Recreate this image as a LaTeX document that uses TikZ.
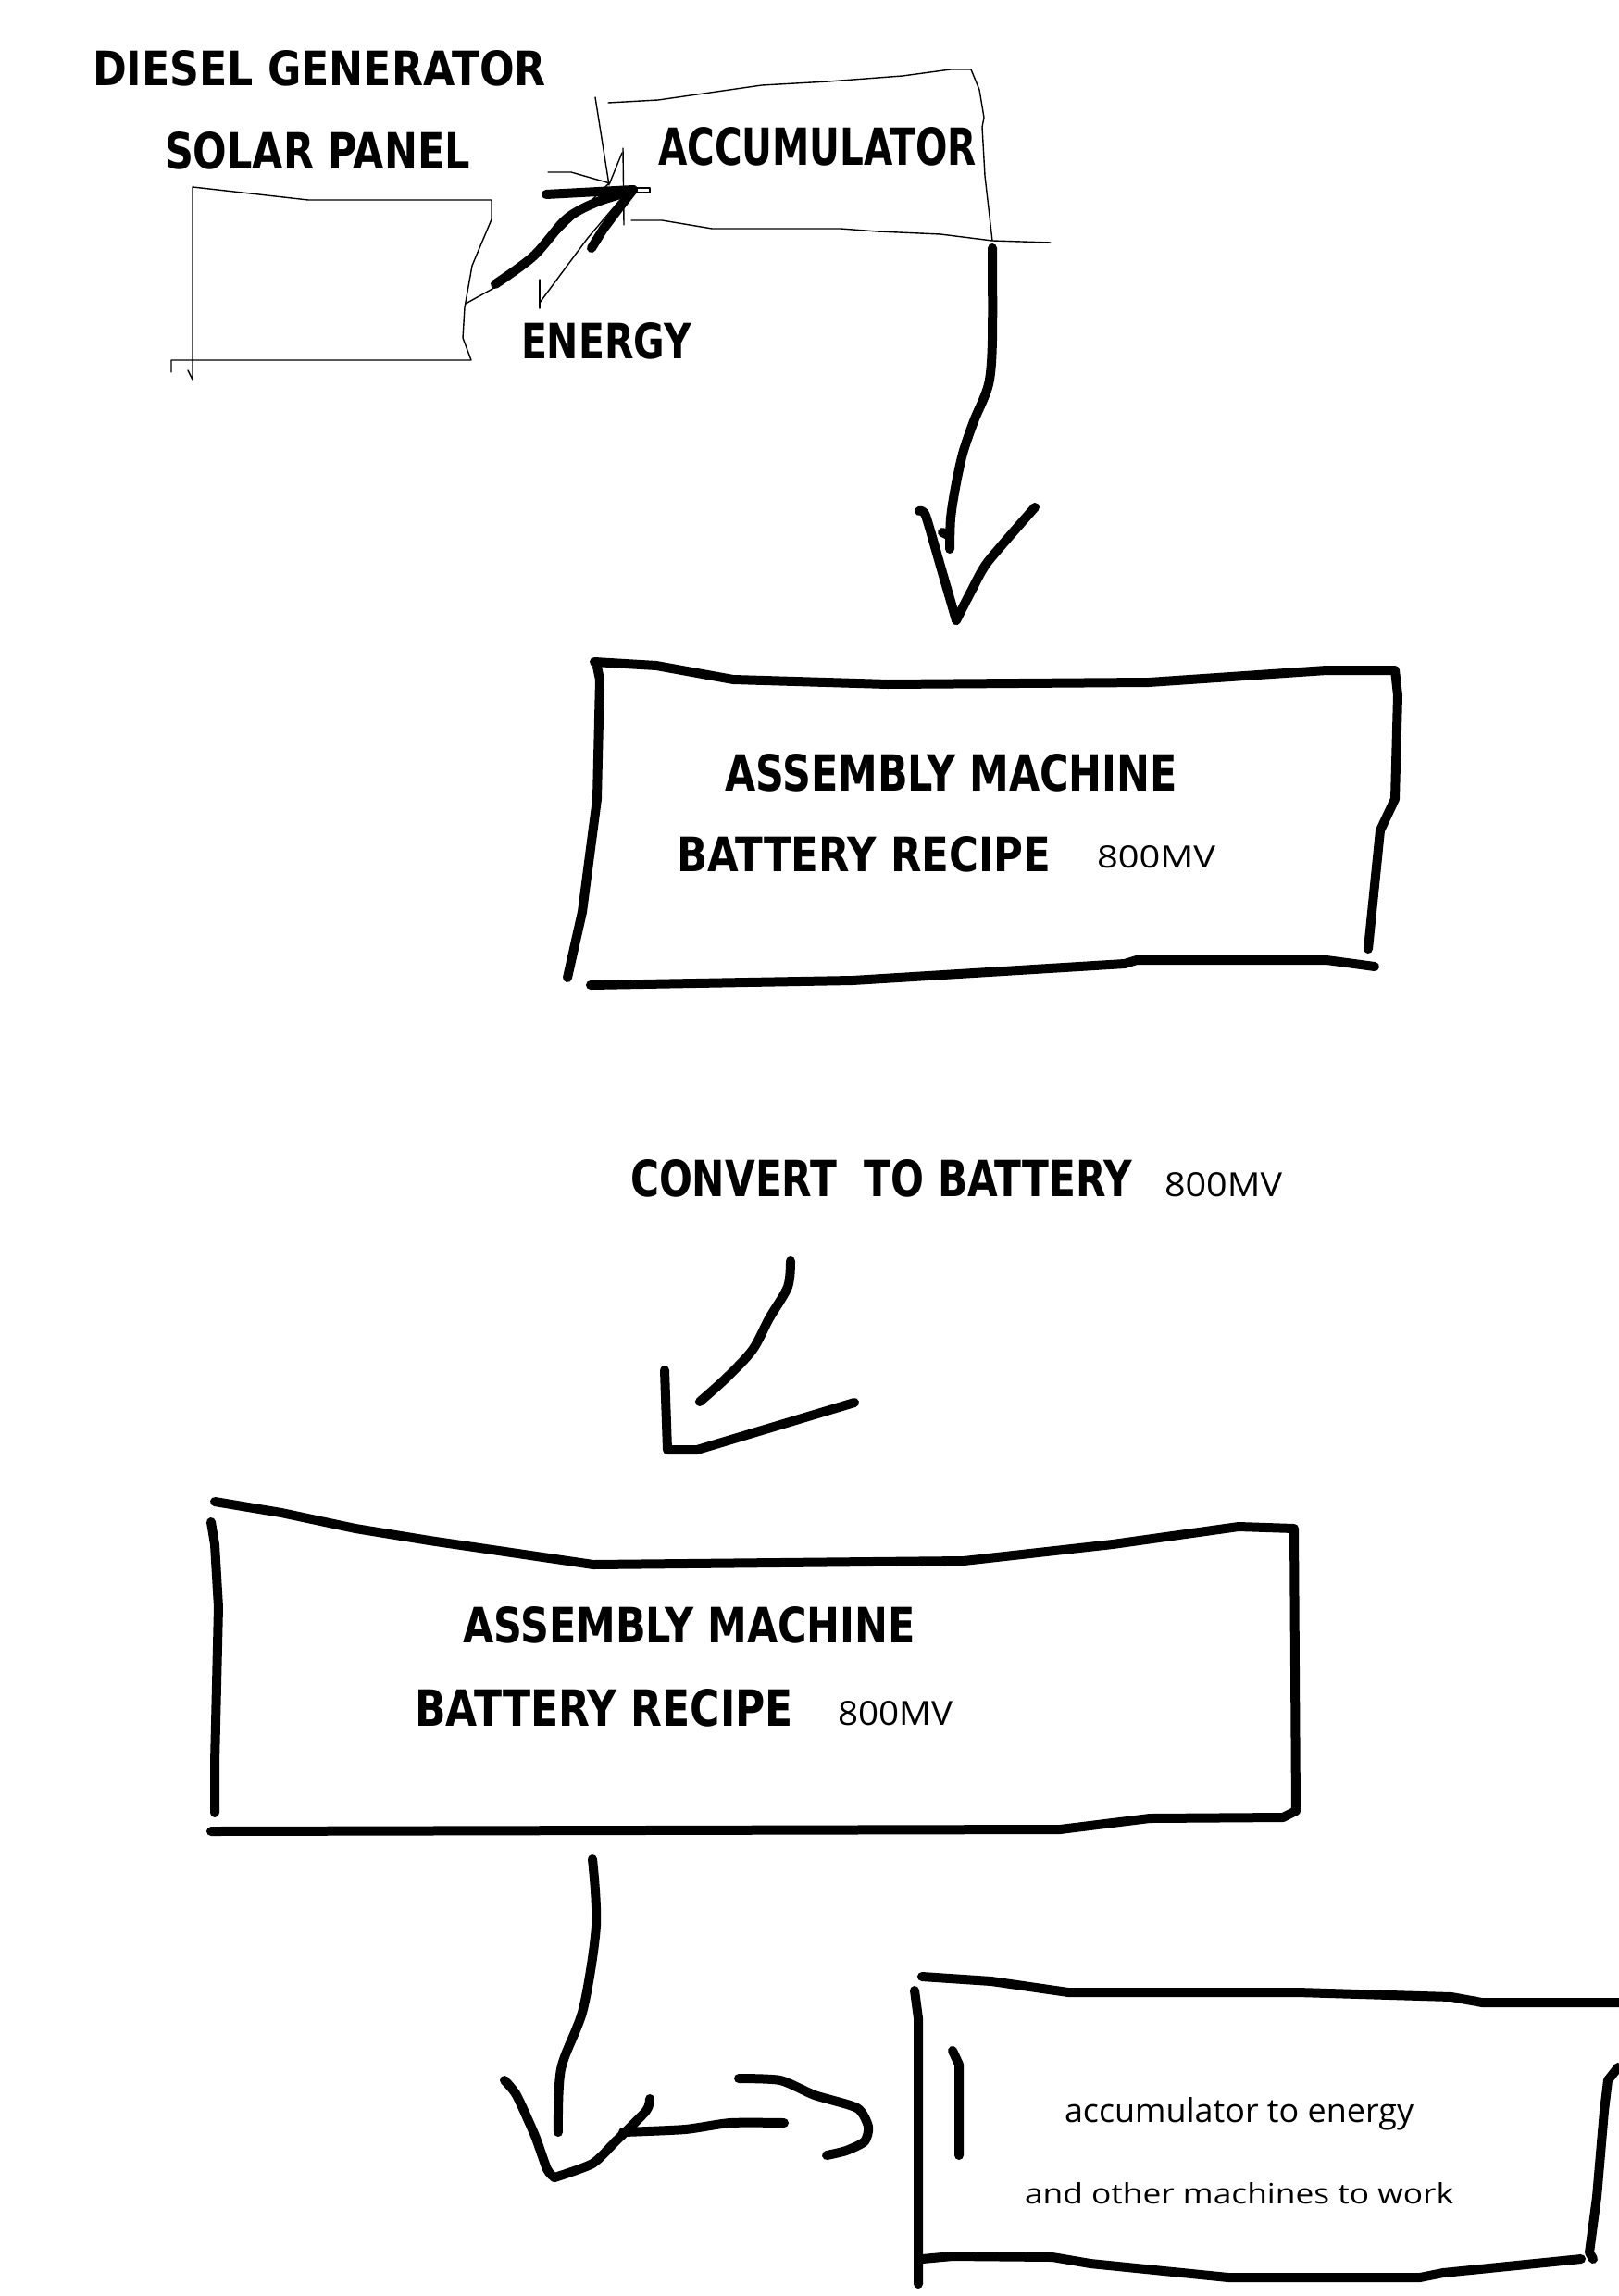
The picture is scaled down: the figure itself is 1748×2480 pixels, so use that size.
\documentclass[tikz,border=0pt]{standalone}
\usepackage{fontspec}
\usepackage{graphicx}
\newfontfamily\decofont{DejaVu Sans}
\newfontfamily\thinfont{Open Sans}
\newcommand\dtext[3]{\resizebox{#1pt}{#2pt}{\decofont\bfseries #3}}
\newcommand\ttext[3]{\resizebox{#1pt}{#2pt}{\thinfont #3}}
\tikzset{
  thickstroke/.style={line width=10pt, line cap=round, line join=round},
  thinstroke/.style={line width=1.4pt, line cap=round, line join=round},
  lbl/.style={inner sep=0pt, outer sep=0pt, anchor=base west}
}
\begin{document}
\begin{tikzpicture}[x=1pt, y=-1pt]
\fill[white] (0,0) rectangle (1748,2480);
\useasboundingbox (0,0) rectangle (1748,2480);

% ---------- top: texts ----------
\node[lbl] (diesel) at (100,93) {\dtext{490}{38}{DIESEL GENERATOR}};
\node[lbl] (solar) at (178,183) {\dtext{330}{40}{SOLAR PANEL}};
\node[lbl] (accu) at (711,179) {\dtext{344}{41}{ACCUMULATOR}};
\node[lbl] (energy) at (563,387) {\dtext{184}{39}{ENERGY}};

% solar panel box (thin)
\draw[thinstroke] (185,402) -- (185,389) -- (509,389) -- (500,365) -- (502,332)
  -- (510,287) -- (531,237) -- (531,216) -- (333,216) -- (208,202) -- (208,410) -- (203,400);

% accumulator box (thin)
\draw[thinstroke] (643,105) -- (658,200);
\draw[thinstroke] (657,111) -- (711,108) -- (823,92) -- (895,88) -- (975,82) -- (1027,75) -- (1049,75)
  -- (1058,97) -- (1063,127) -- (1061,137) -- (1064,190) -- (1072,260);
\draw[thinstroke] (682,238) -- (715,238) -- (769,247) -- (908,247) -- (948,250) -- (1016,253)
  -- (1072,260) -- (1135,262);

% thin scribbles near the energy arrow
\draw[thinstroke] (592,186) -- (617,186) -- (659,198);
\draw[thinstroke] (673,160) -- (674,243);
\draw[thinstroke] (503,328) -- (532,312) -- (600,255) -- (659,197) -- (672,165);
\draw[thinstroke] (583,302) -- (583,333);
\draw[thinstroke] (583,327) -- (603,300) -- (635,257) -- (652,237) -- (669,217);
\draw[thinstroke] (684,203) -- (702,203) -- (702,208) -- (686,208);

% energy arrow (thick)
\coordinate (enStart) at (535,307);
\coordinate (enTip) at (684,205);
\draw[thickstroke] plot[smooth, tension=0.5] coordinates {(enStart) (576,277) (608,240) (626,227) (648,217) (670,210) (enTip)};
\draw[thickstroke] (590,210) -- (enTip) -- (670,223) -- (652,247) -- (639,268);

% ---------- arrow accumulator -> box 1 ----------
\coordinate (a1s) at (1072,268);
\coordinate (a1t) at (1033,670);
\draw[thickstroke] plot[smooth, tension=0.5] coordinates {(a1s) (1072,367) (1068,415) (1052,455) (1040,490) (1032,527) (1027,560) (1026,593)};
\draw[thickstroke] (1018,575) -- (1024,578);
\draw[thickstroke] plot[smooth, tension=0.4] coordinates {(993,552) (1000,557) (1017,615) (a1t)};
\draw[thickstroke] plot[smooth, tension=0.4] coordinates {(a1t) (1050,637) (1067,607) (1118,548)};

% ---------- box 1 ----------
\draw[thickstroke] (642,715) -- (709,719) -- (792,734) -- (959,739) -- (1241,737) -- (1433,724) -- (1507,724)
  -- (1510,751) -- (1507,863) -- (1491,897) -- (1478,1025);
\draw[thickstroke] (645,720) -- (648,734) -- (645,863) -- (629,985) -- (613,1056);
\draw[thickstroke] (638,1064) -- (921,1059) -- (1215,1041) -- (1228,1037) -- (1433,1037) -- (1485,1044);
\node[lbl] (asm1) at (783,854) {\dtext{489}{40}{ASSEMBLY MACHINE}};
\node[lbl] (bat1) at (731,941) {\dtext{404}{38}{BATTERY RECIPE}};
\node[lbl] (mv1) at (1185,937) {\ttext{128}{24}{800MV}};

% ---------- convert text + arrow 2 ----------
\node[lbl] (conv) at (681,1292) {\dtext{542}{40}{CONVERT\ \ TO BATTERY}};
\node[lbl] (mv2) at (1258,1292) {\ttext{127}{26}{800MV}};
\coordinate (a2s) at (854,1362);
\coordinate (a2t) at (721,1566);
\draw[thickstroke] plot[smooth, tension=0.5] coordinates {(a2s) (851,1390) (831,1424) (813,1458) (785,1488) (756,1514)};
\draw[thickstroke] (718,1480) -- (a2t) -- (753,1566) -- (923,1515);

% ---------- box 2 ----------
\draw[thickstroke] (232,1622) -- (304,1634) -- (384,1651) -- (464,1664) -- (641,1690) -- (1041,1686)
  -- (1202,1668) -- (1338,1649) -- (1398,1651) -- (1400,1956) -- (1386,1963);
\draw[thickstroke] (228,1644) -- (232,1668) -- (236,1736) -- (232,1905) -- (232,1958);
\draw[thickstroke] (228,1978) -- (1145,1976) -- (1242,1964) -- (1386,1963);
\node[lbl] (asm2) at (500,1774) {\dtext{489}{39}{ASSEMBLY MACHINE}};
\node[lbl] (bat2) at (448,1864) {\dtext{409}{40}{BATTERY RECIPE}};
\node[lbl] (mv3) at (905,1863) {\ttext{124}{26}{800MV}};

% ---------- arrow 3 ----------
\coordinate (a3s) at (640,2008);
\coordinate (a3t) at (599,2352);
\draw[thickstroke] plot[smooth, tension=0.5] coordinates {(a3s) (644,2080) (630,2170) (606,2235) (603,2303)};
\draw[thickstroke] plot[smooth, tension=0.4] coordinates {(545,2247) (558,2263) (578,2307) (591,2343) (a3t)};
\draw[thickstroke] plot[smooth, tension=0.4] coordinates {(a3t) (640,2337) (665,2313) (698,2280) (702,2267)};
\draw[thickstroke] plot[smooth, tension=0.4] coordinates {(673,2303) (740,2300) (789,2293) (847,2293)};
\draw[thickstroke] plot[smooth, tension=0.4] coordinates {(798,2245) (843,2247) (880,2263) (926,2277) (938,2297) (934,2313) (914,2323) (893,2328)};

% ---------- box 3 ----------
\draw[thickstroke] (988,2150) -- (992,2180) -- (992,2380) -- (992,2467);
\draw[thickstroke] (1029,2215) -- (1036,2230) -- (1036,2328);
\draw[thickstroke] (996,2135) -- (1071,2140) -- (1154,2152) -- (1402,2152) -- (1568,2157) -- (1601,2163) -- (1760,2163);
\draw[thickstroke] (1748,2233) -- (1737,2247) -- (1733,2280) -- (1725,2373) -- (1717,2433) -- (1721,2440);
\draw[thickstroke] (996,2440) -- (1029,2437) -- (1137,2438) -- (1178,2445) -- (1327,2460) -- (1534,2460) -- (1559,2455) -- (1708,2440);
\node[lbl] (txt1) at (1150,2292) {\ttext{377}{27}{accumulator to energy}};
\node[lbl] (txt2) at (1107,2380) {\ttext{463}{23}{and other machines to work}};
\end{tikzpicture}
\end{document}
